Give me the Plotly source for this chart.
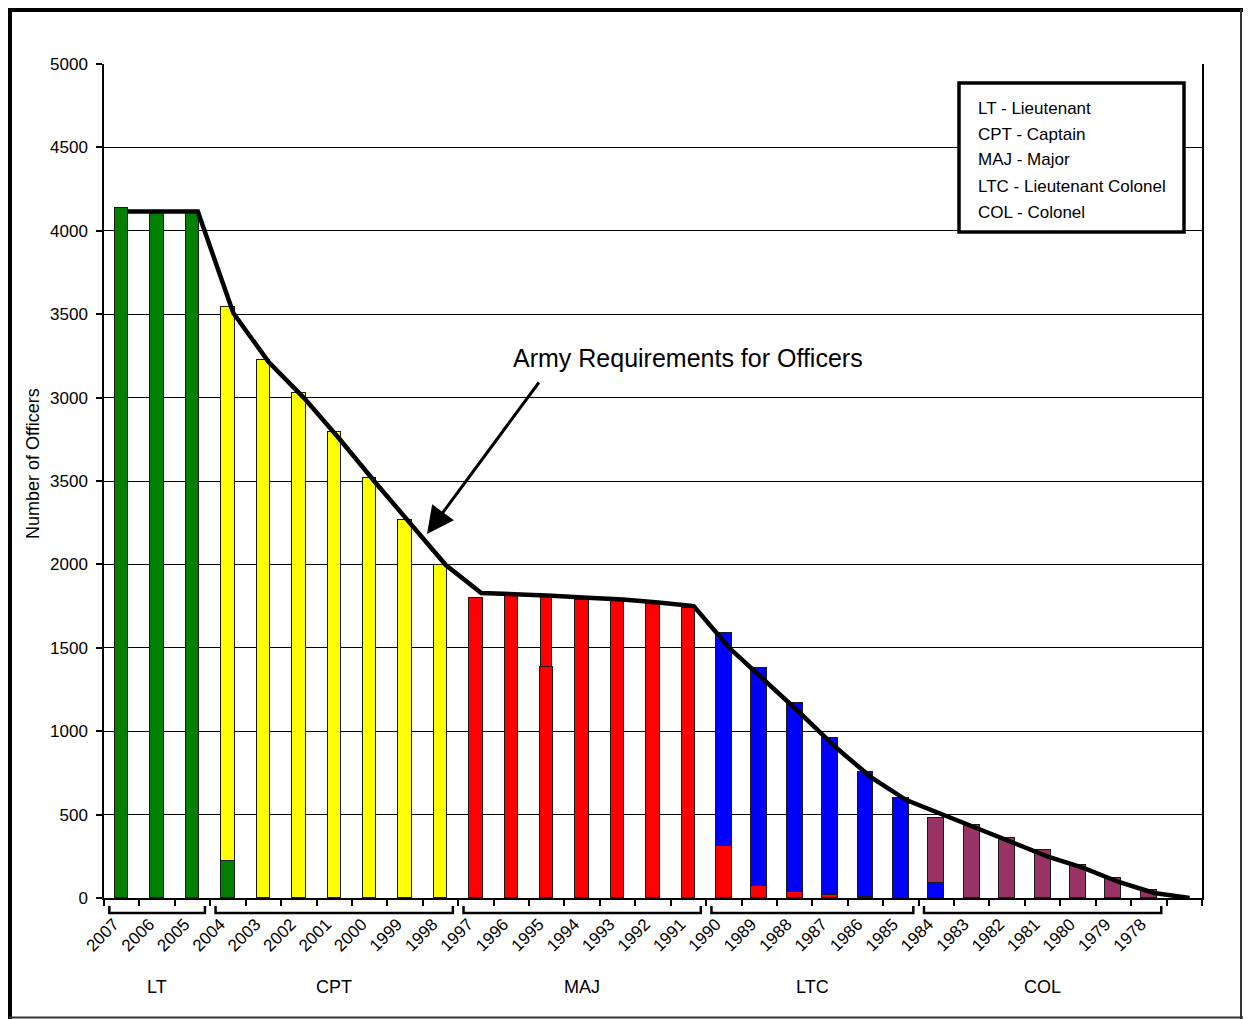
import plotly.graph_objects as go

# ---------------- data ----------------
years = ["2007", "2006", "2005", "2004", "2003", "2002", "2001", "2000", "1999", "1998",
         "1997", "1996", "1995", "1994", "1993", "1992", "1991",
         "1990", "1989", "1988", "1987", "1986", "1985",
         "1984", "1983", "1982", "1981", "1980", "1979", "1978"]
n_cat = len(years) + 1  # one trailing empty category where the requirement line reaches 0

lt_vals = [4138, 4120, 4120, 222] + [0] * 26
cpt_vals = [0, 0, 0, 3321, 3225, 3027, 2796, 2520, 2266, 1996] + [0] * 20
maj_vals = [0] * 10 + [1798, 1811, 1385, 1786, 1780, 1766, 1737, 312, 72, 36, 20, 8] + [0] * 8
maj_upper_vals = [0] * 12 + [432] + [0] * 17
ltc_vals = [0] * 17 + [1276, 1307, 1133, 939, 747, 600, 90] + [0] * 6
col_vals = [0] * 23 + [390, 438, 360, 288, 198, 120, 48]

requirement = [4115, 4115, 4115, 3507, 3213, 2997, 2752, 2494, 2248, 1996,
               1829, 1822, 1812, 1800, 1790, 1772, 1750,
               1500, 1307, 1109, 905, 725, 587,
               503, 420, 330, 248, 180, 96, 30, 0]

groups = ["LT", "CPT", "MAJ", "LTC", "COL"]
group_sizes = [3, 7, 7, 6, 7]

y_tick_vals = [0, 500, 1000, 1500, 2000, 2500, 3000, 3500, 4000, 4500, 5000]
y_tick_text = ["0", "500", "1000", "1500", "2000", "3500", "3000", "3500", "4000", "4500", "5000"]

legend_lines = ["LT - Lieutenant", "CPT - Captain", "MAJ - Major",
                "LTC - Lieutenant Colonel", "COL - Colonel"]

# ---------------- geometry helpers (page pixels) ----------------
PAGE_OFF = 8                      # default body margin of the html page
W_PAGE, H_PAGE = 1251, 1019
L, R, T, B = 104, 1202, 64, 898   # plot area in page pixels
PW, PH = R - L, B - T


def pxx(p):
    return (p - L) / PW


def pxy(p):
    return (B - p) / PH


FONT = "Liberation Sans, Arial, sans-serif"

x_idx = list(range(len(years)))
widths = [0.38] * 17 + [0.45] * 13
outline = dict(color="#1a1a1a", width=1)

fig = go.Figure()
for vals, color, w in [
    (lt_vals, "#008000", widths),
    (cpt_vals, "#FFFF00", widths),
    (maj_vals, "#FF0000", widths),
    (maj_upper_vals, "#FF0000", [0.3] * 30),
    (ltc_vals, "#0000FF", widths),
    (col_vals, "#993366", widths),
]:
    fig.add_trace(go.Bar(x=x_idx, y=vals, width=w, marker=dict(color=color, line=outline),
                         showlegend=False, hoverinfo="skip"))

fig.add_trace(go.Scatter(x=[i + 0.15 for i in range(n_cat)], y=requirement, xaxis="x2",
                         mode="lines", line=dict(color="black", width=4.5),
                         showlegend=False, hoverinfo="skip"))

xr = [-0.5, n_cat - 0.5]
fig.update_layout(
    width=W_PAGE - PAGE_OFF, height=H_PAGE - PAGE_OFF,
    margin=dict(l=L - PAGE_OFF, r=W_PAGE - R, t=T - PAGE_OFF, b=H_PAGE - B, pad=0),
    paper_bgcolor="white", plot_bgcolor="white",
    barmode="stack", bargap=0,
    font=dict(family=FONT, color="black"),
    xaxis=dict(range=xr, tickmode="array", tickvals=[i - 0.22 for i in x_idx], ticktext=years,
               tickangle=-45, ticks="", ticklabelstandoff=8, tickfont=dict(size=17),
               showgrid=False, zeroline=False, showline=True, linecolor="black", linewidth=1.5),
    xaxis2=dict(range=xr, overlaying="x", anchor="y", side="bottom", tickmode="array",
                tickvals=[i - 0.5 for i in range(n_cat + 1)], ticks="outside", ticklen=7,
                tickcolor="black", tickwidth=1.5, showticklabels=False, showgrid=False,
                zeroline=False, showline=False),
    yaxis=dict(range=[0, 5000], tickmode="array", tickvals=y_tick_vals, ticktext=y_tick_text,
               ticks="outside", ticklen=6, tickcolor="black", tickwidth=1.5, ticklabelstandoff=5,
               tickfont=dict(size=17), showgrid=True, gridcolor="black", gridwidth=1.2,
               zeroline=False, showline=True, linecolor="black", linewidth=1.5,
               mirror=True),
)

shapes = []
# group brackets
start = 0
for g, size in zip(groups, group_sizes):
    x0 = start - 0.5 + 0.15
    x1 = start + size - 0.5 - 0.15
    y_top, y_bot = pxy(906), pxy(913)
    shapes.append(dict(type="path", xref="x", yref="paper",
                       path=f"M {x0},{y_top} L {x0},{y_bot} L {x1},{y_bot} L {x1},{y_top}",
                       line=dict(color="black", width=2.5)))
    fig.add_annotation(x=start + (size - 1) / 2, y=pxy(987), xref="x", yref="paper",
                       text=g, showarrow=False, font=dict(size=18),
                       xanchor="center", yanchor="middle")
    start += size

# legend box
shapes.append(dict(type="rect", xref="paper", yref="paper", x0=pxx(959), x1=pxx(1184),
                   y0=pxy(232), y1=pxy(83), line=dict(color="black", width=3.5),
                   fillcolor="white", layer="above"))
for k, txt in enumerate(legend_lines):
    fig.add_annotation(x=pxx(976), y=pxy(108 + 26 * k), xref="paper", yref="paper",
                       text=txt, showarrow=False, xanchor="left", yanchor="middle",
                       font=dict(size=17))

# outer frame
shapes += [
    dict(type="line", xref="paper", yref="paper", x0=pxx(9.5), x1=pxx(9.5), y0=pxy(7), y1=pxy(1019),
         line=dict(color="black", width=5)),
    dict(type="line", xref="paper", yref="paper", x0=pxx(7), x1=pxx(1251), y0=pxy(9.5), y1=pxy(9.5),
         line=dict(color="black", width=5)),
    dict(type="line", xref="paper", yref="paper", x0=pxx(1241), x1=pxx(1241), y0=pxy(9), y1=pxy(1019),
         line=dict(color="#333", width=2)),
    dict(type="line", xref="paper", yref="paper", x0=pxx(9), x1=pxx(1251), y0=pxy(1017.5), y1=pxy(1017.5),
         line=dict(color="#333", width=2)),
]
fig.update_layout(shapes=shapes)

# y-axis title
fig.add_annotation(x=pxx(33), y=pxy(464), xref="paper", yref="paper", text="Number of Officers",
                   textangle=-90, showarrow=False, font=dict(size=18),
                   xanchor="center", yanchor="middle")

# callout
fig.add_annotation(x=pxx(688), y=pxy(358), xref="paper", yref="paper",
                   text="Army Requirements for Officers", showarrow=False,
                   font=dict(size=25), xanchor="center", yanchor="middle")
fig.add_annotation(x=pxx(427), y=pxy(534), xref="paper", yref="paper",
                   ax=540 - 427, ay=381 - 534, axref="pixel", ayref="pixel",
                   text="", showarrow=True, arrowhead=2,
                   arrowsize=1.8, arrowwidth=3, arrowcolor="black")

fig.write_html("out.html")
